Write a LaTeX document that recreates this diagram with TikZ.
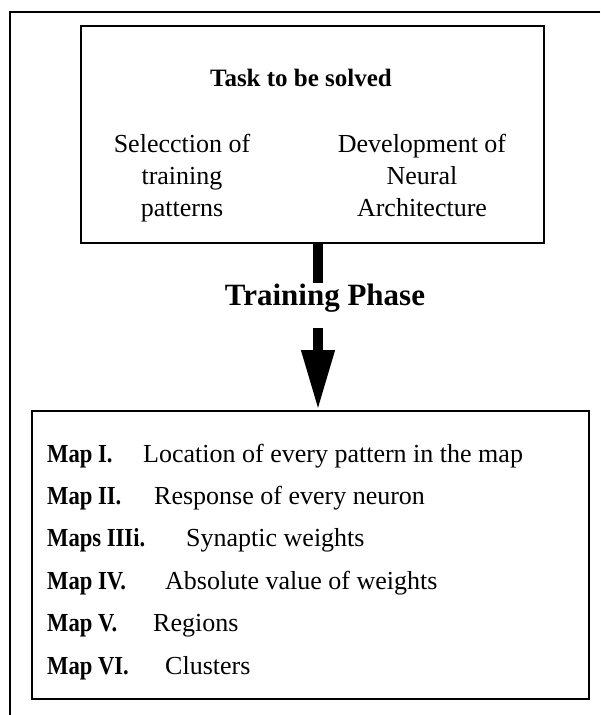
\documentclass[tikz,border=0pt]{standalone}
\usepackage{fontspec}
\setmainfont{Liberation Serif}
\newfontfamily\condserif{Liberation Serif}[FakeStretch=0.87]
\usetikzlibrary{arrows.meta, positioning}
\tikzset{frame/.style = {
  draw=black,
  line width=1.6pt
  }}
\tikzset{box/.style = {
  % Rectangle:
  rectangle,
  draw=black, line width=1.6pt,
  inner sep=0pt
  }}
\tikzset{heading/.style = {
  % Text:
  font=\fontsize{25}{30}\selectfont\bfseries,
  inner sep=0pt
  }}
\tikzset{plain/.style = {
  % Text:
  font=\fontsize{26}{32}\selectfont,
  align=center,
  anchor=north,
  inner sep=0pt
  }}
\tikzset{phasetext/.style = {
  % Text:
  font=\fontsize{31}{36}\selectfont\bfseries,
  inner xsep=2pt, inner ysep=0pt,
  text height=22pt, text depth=7pt
  }}
\tikzset{maplabel/.style = {
  % Text:
  font=\condserif\fontsize{26}{30}\selectfont\bfseries,
  anchor=base west, inner sep=0pt
  }}
\tikzset{mapdesc/.style = {
  % Text:
  font=\fontsize{26}{30}\selectfont,
  anchor=base west, inner sep=0pt
  }}
\tikzset{bar/.style = {
  draw=black,
  line width=10pt
  }}
\tikzset{arrow/.style = {
  bar,
  -{Triangle[length=60pt, width=31pt]}
  }}

\begin{document}
\begin{tikzpicture}[x=1pt, y=-1pt]
  \useasboundingbox (0,0) rectangle (600,715);
  %
  % Specification of nodes
  %
  \node (task) [box, minimum width=463pt, minimum height=217pt] at (312.5,134.5) {};
  \node (title) [heading, anchor=base] at (301,86) {Task to be solved};
  \node (select) [plain] at (182,134) {Selecction of\\training\\patterns};
  \node (develop) [plain] at (422,134) {Development of\\Neural\\Architecture};

  \node (phase) [phasetext, anchor=base] at (325,305) {Training Phase};

  \node (maps) [box, minimum width=557pt, minimum height=288pt] at (310.5,555) {};
  \foreach \lab/\desc/\dx [count=\i] in {Map I./Location of every pattern in the map/143,
      Map II./Response of every neuron/154, Maps IIIi./Synaptic weights/186,
      Map IV./Absolute value of weights/165, Map V./Regions/153, Map VI./Clusters/165}
  {
    \node (maplabel-\i) [maplabel] at (47, 419.6+42.4*\i) {\lab};
    \node (mapdesc-\i) [mapdesc] at (\dx, 419.6+42.4*\i) {\desc};
  }

  %
  % Specification of lines
  %
  \coordinate (stem) at (318,0);
  \draw [bar] (task.south -| stem) -- (phase.north -| stem);
  \draw [arrow, shorten <=16pt] (phase.south -| stem) -- (maps.north -| stem);

  %
  % Frame
  %
  \draw [frame] (600,12) -| (10,715);
\end{tikzpicture}
\end{document}
